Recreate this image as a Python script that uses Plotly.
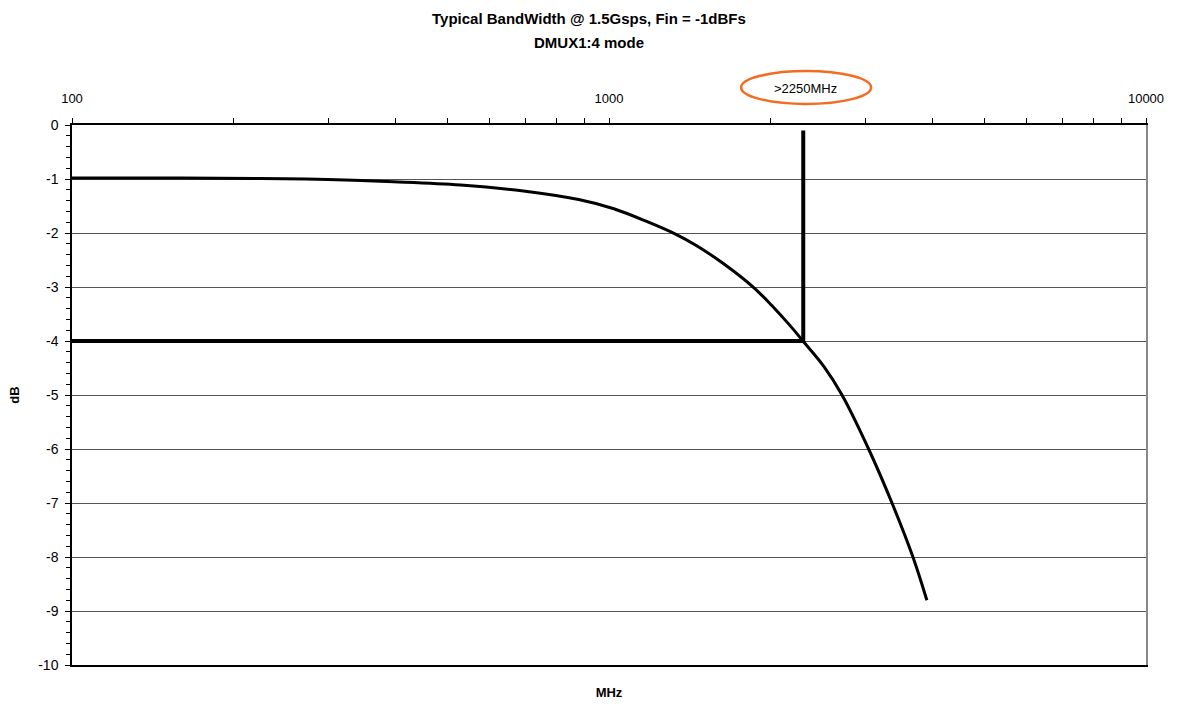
import plotly.graph_objects as go

# Bandwidth curve (MHz, dB)
freq_mhz = [100, 160, 225, 299, 397, 529, 704, 878, 1021, 1178, 1330, 1459, 1635,
            1860, 2026, 2176, 2297, 2512, 2716, 3044, 3365, 3681, 3908]
gain_db = [-0.98, -0.98, -0.99, -1.01, -1.05, -1.11, -1.23, -1.38, -1.55, -1.79,
           -2.02, -2.24, -2.57, -3.01, -3.38, -3.72, -4.0, -4.47, -5.0, -6.0,
           -7.0, -8.0, -8.80]

# -3 dB marker (relative to -1 dBFS): horizontal at -4 dB, vertical at ~2300 MHz
marker_x = [100, 2300, 2300]
marker_y = [-4.0, -4.0, -0.1]

x_tickvals = [100, 1000, 10000]
x_ticktext = ["100", "1000", "10000"]
y_tickvals = list(range(0, -11, -1))
y_ticktext = [str(v) for v in y_tickvals]

font_family = "Liberation Sans, Arial, sans-serif"

fig = go.Figure()
fig.add_trace(go.Scatter(x=freq_mhz, y=gain_db, mode="lines",
                         line=dict(color="black", width=3, shape="spline", smoothing=1.0),
                         showlegend=False, hoverinfo="skip"))
fig.add_trace(go.Scatter(x=marker_x, y=marker_y, mode="lines",
                         line=dict(color="black", width=4),
                         showlegend=False, hoverinfo="skip"))

fig.update_layout(
    width=1178, height=704,
    margin=dict(l=72, r=32, t=125, b=39, pad=0, autoexpand=False),
    paper_bgcolor="white", plot_bgcolor="white",
    font=dict(family=font_family, size=13, color="black"),
    xaxis=dict(type="log", range=[2, 4], side="top", automargin=False,
               tickvals=x_tickvals, ticktext=x_ticktext,
               ticks="outside", ticklen=5, tickcolor="black", tickwidth=1,
               minor=dict(ticks="outside", ticklen=5, tickcolor="black", tickwidth=1,
                          tickvals=[v * m for v in (100, 1000) for m in range(2, 10)]),
               showline=True, linecolor="black", linewidth=2, mirror=False,
               showgrid=False, zeroline=False, ticklabelstandoff=10,
               tickfont=dict(size=13)),
    xaxis2=dict(overlaying="x", side="bottom", range=[2, 4], type="log", automargin=False,
                showticklabels=False, ticks="", showline=True, linecolor="black",
                linewidth=2, showgrid=False, zeroline=False,
                title=dict(text="<b>MHz</b>", font=dict(size=13), standoff=22)),
    yaxis=dict(range=[-10, 0], tickvals=y_tickvals, ticktext=y_ticktext, automargin=False,
               ticks="outside", ticklen=5, tickcolor="black", tickwidth=1,
               minor=dict(dtick=0.2, ticks="outside", ticklen=4, tickcolor="black", showgrid=False),
               showline=True, linecolor="black", linewidth=1.5, ticklabelstandoff=4,
               showgrid=True, gridcolor="#555555", gridwidth=1, zeroline=False,
               tickfont=dict(size=14),
               title=dict(text="<b>dB</b>", font=dict(size=13), standoff=16)),
    yaxis2=dict(overlaying="y", side="right", range=[-10, 0], showticklabels=False,
                ticks="", showline=True, linecolor="#888888", linewidth=1.5, automargin=False,
                showgrid=False, zeroline=False),
)

# invisible trace to activate secondary axes
fig.add_trace(go.Scatter(x=[100], y=[-10], xaxis="x2", yaxis="y2", mode="markers",
                         marker=dict(opacity=0), showlegend=False, hoverinfo="skip"))

# Title lines
fig.add_annotation(text="<b>Typical BandWidth @ 1.5Gsps, Fin = -1dBFs</b>", xref="paper", yref="paper",
                   x=0.481, y=1.198, xanchor="center", yanchor="middle", showarrow=False,
                   font=dict(size=15, family=font_family, color="black"))
fig.add_annotation(text="<b>DMUX1:4 mode</b>", xref="paper", yref="paper",
                   x=0.481, y=1.1537, xanchor="center", yanchor="middle", showarrow=False,
                   font=dict(size=15, family=font_family, color="black"))

fig.add_annotation(text=">2250MHz", xref="paper", yref="paper", x=0.683, y=1.0685,
                   xanchor="center", yanchor="middle", showarrow=False,
                   font=dict(size=13, family=font_family, color="black"))
fig.add_shape(type="circle", xref="paper", yref="paper",
              x0=0.623, x1=0.744, y0=1.039, y1=1.10,
              line=dict(color="#F26D21", width=2.5))

fig.write_html("out.html")
